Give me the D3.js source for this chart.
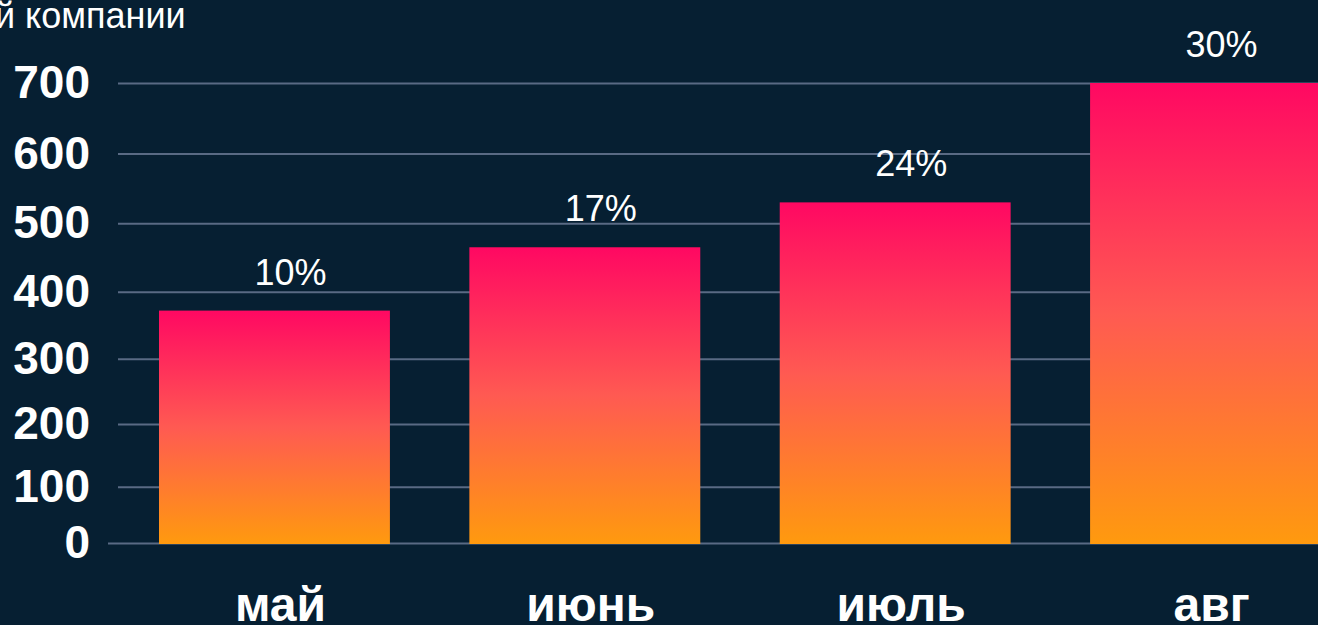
<!DOCTYPE html>
<html>
<head>
<meta charset="utf-8">
<script src="https://cdn.jsdelivr.net/npm/d3@7"></script>
<style>
  html, body { margin: 0; padding: 0; background: #061f32; overflow: hidden; }
  svg { display: block; font-family: "Liberation Sans", Arial, sans-serif; }
</style>
</head>
<body>
<div id="chart"></div>
<script>
// data
const months = ['май', 'июнь', 'июль', 'авг'];
const revenue = [372, 465, 530, 700];
const growthLabels = ['10%', '17%', '24%', '30%'];
const yTicks = [0, 100, 200, 300, 400, 500, 600, 700];
const titleText = 'й компании';

const width = 1318, height = 625;

const svg = d3.select('#chart')
  .append('svg')
    .attr('width', width)
    .attr('height', height);

svg.append('rect')
  .attr('width', width)
  .attr('height', height)
  .attr('fill', '#061f32');

// gradient used by every bar (top pink, bottom orange)
const grad = svg.append('defs')
  .append('linearGradient')
    .attr('id', 'barGrad')
    .attr('x1', 0).attr('y1', 0)
    .attr('x2', 0).attr('y2', 1);
grad.append('stop').attr('offset', '0%').attr('stop-color', '#ff0862');
grad.append('stop').attr('offset', '50%').attr('stop-color', '#ff5a52');
grad.append('stop').attr('offset', '100%').attr('stop-color', '#ff9a0e');

// y axis is slightly stretched towards the top in the original
const y = d3.scalePow()
  .exponent(1.08)
  .domain([0, 700])
  .range([543, 83]);

const x = d3.scaleBand()
  .domain(months)
  .range([159, 1321])
  .paddingInner(0.256)
  .paddingOuter(0);

// title (cut off at left edge in the original)
svg.append('text')
  .attr('x', -5)
  .attr('y', 28)
  .attr('fill', '#ffffff')
  .attr('font-size', 36)
  .text(titleText);

// grid + tick labels
const yAxis = svg.append('g')
  .attr('transform', 'translate(' + width + ',0)')
  .call(d3.axisLeft(y).tickValues(yTicks).tickSize(1200).tickPadding(28));

yAxis.select('.domain').remove();
yAxis.selectAll('.tick line')
  .attr('stroke', '#596a84')
  .attr('stroke-width', 2)
  .attr('x2', function(d) { return d === 0 ? -1210 : -1200; });
yAxis.selectAll('.tick text')
  .attr('fill', '#ffffff')
  .attr('font-size', 46)
  .attr('font-weight', 'bold')
  .attr('font-family', '"Liberation Sans", Arial, sans-serif');

// bars
svg.append('g')
  .selectAll('rect')
  .data(revenue)
  .enter()
  .append('rect')
    .attr('x', function(d, i) { return x(months[i]); })
    .attr('y', function(d) { return y(d); })
    .attr('width', x.bandwidth())
    .attr('height', function(d) { return y(0) + 1 - y(d); })
    .attr('fill', 'url(#barGrad)');

// percentage labels above bars
svg.append('g')
  .selectAll('text')
  .data(revenue)
  .enter()
  .append('text')
    .attr('x', function(d, i) { return x(months[i]) + x.bandwidth() / 2 + 16; })
    .attr('y', function(d) { return y(d) - 26; })
    .attr('text-anchor', 'middle')
    .attr('fill', '#ffffff')
    .attr('font-size', 36)
    .text(function(d, i) { return growthLabels[i]; });

// month labels
const xAxis = svg.append('g')
  .attr('transform', 'translate(6,544)')
  .call(d3.axisBottom(x).tickSize(0).tickPadding(43));

xAxis.select('.domain').remove();
xAxis.selectAll('.tick text')
  .attr('fill', '#ffffff')
  .attr('font-size', 48)
  .attr('font-weight', 'bold')
  .attr('font-family', '"Liberation Sans", Arial, sans-serif');
</script>
</body>
</html>
